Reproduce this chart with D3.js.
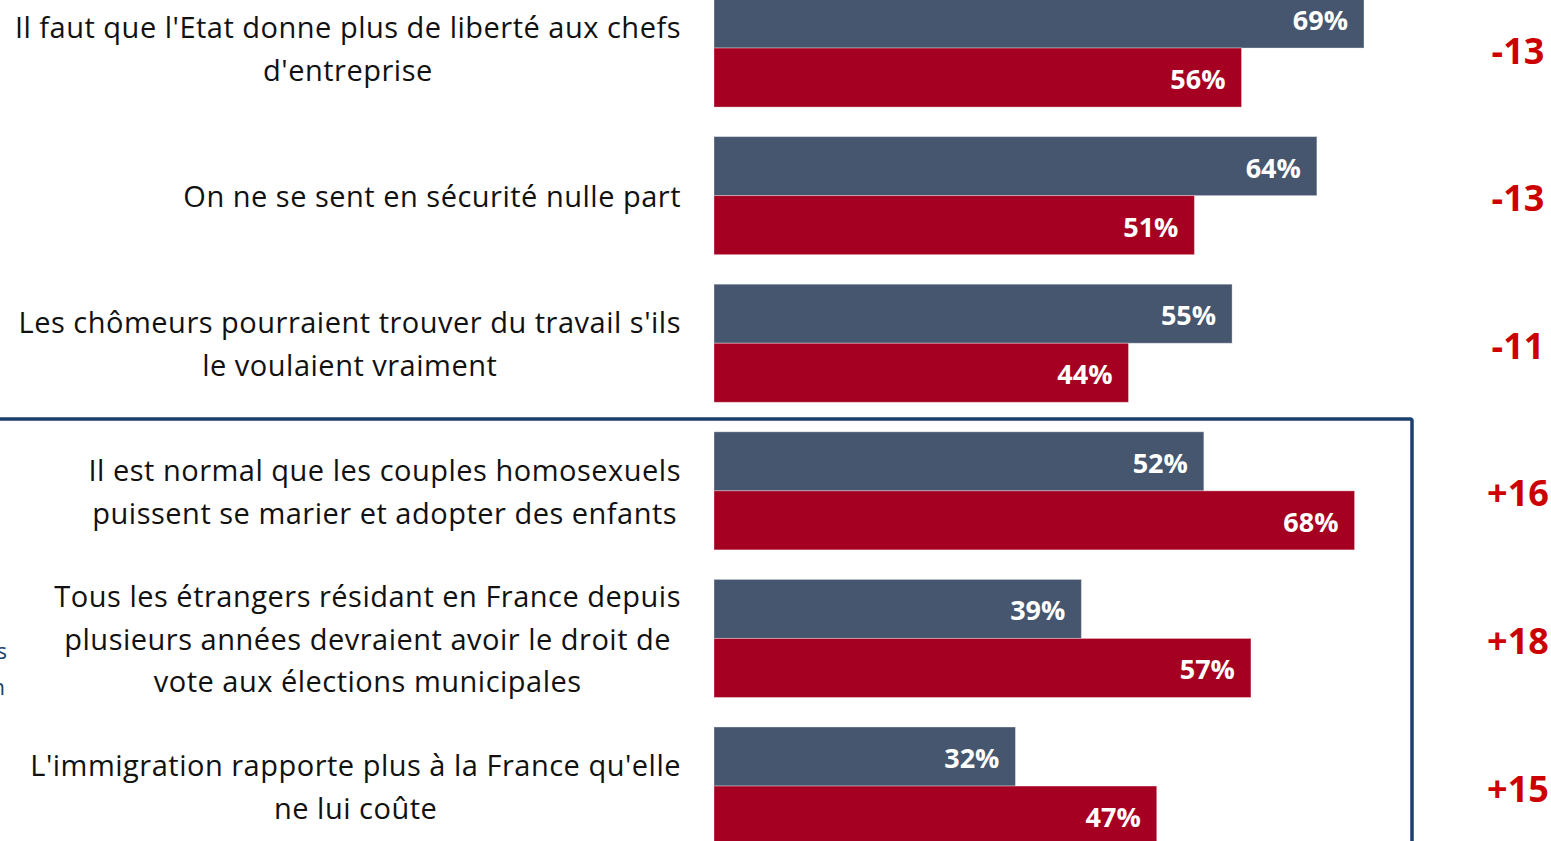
<!DOCTYPE html>
<html><head><meta charset="utf-8">
<script src="https://cdn.jsdelivr.net/npm/d3@7"></script>
<style>html,body{margin:0;padding:0;background:#fff;overflow:hidden}</style>
</head><body>
<script>
const categories = [
  ["Il faut que l'Etat donne plus de liberté aux chefs", "d'entreprise"],
  ["On ne se sent en sécurité nulle part"],
  ["Les chômeurs pourraient trouver du travail s'ils", "le voulaient vraiment"],
  ["Il est normal que les couples homosexuels", "puissent se marier et adopter des enfants"],
  ["Tous les étrangers résidant en France depuis", "plusieurs années devraient avoir le droit de", "vote aux élections municipales"],
  ["L'immigration rapporte plus à la France qu'elle", "ne lui coûte"]
];
const series1 = [69, 64, 55, 52, 39, 32];
const series2 = [56, 51, 44, 68, 57, 47];
const diffs = ["-13", "-13", "-11", "+16", "+18", "+15"];
const sideLabels = ["s", "n"];

const W = 1551, H = 841;
const svg = d3.select("body").append("svg").attr("width", W).attr("height", H)
  .style("font-family", "'Open Sans', Lato, sans-serif");

const idx = d3.range(categories.length);
const step = 147.6;
const y = d3.scaleBand().domain(idx).range([-11 - 0.1*step, -11 - 0.1*step + 6*step]).paddingInner(0.2).paddingOuter(0.1);
const ySub = d3.scaleBand().domain([0,1]).range([0, y.bandwidth()]);
const x = d3.scaleLinear().domain([0, 100]).range([714, 714 + 942]);
const colors = ["#46566E", "#A50021"];

// box
svg.append("rect").attr("x", -20).attr("y", 419).attr("width", 1412 + 20).attr("height", 500)
  .attr("fill", "none").attr("stroke", "#1C3F6E").attr("stroke-width", 3.5).attr("rx", 2);

svg.append("text").attr("x", 7).attr("y", 659).attr("text-anchor", "end").attr("fill", "#1C3F6E")
  .attr("font-size", 22).text(sideLabels[0]);
svg.append("text").attr("x", 5).attr("y", 695).attr("text-anchor", "end").attr("fill", "#1C3F6E")
  .attr("font-size", 22).text(sideLabels[1]);

const g = svg.selectAll("g.grp").data(idx).join("g").attr("class", "grp")
  .attr("transform", i => `translate(0,${y(i)})`);

[series1, series2].forEach((s, k) => {
  g.append("rect")
    .attr("x", x(0)).attr("y", ySub(k))
    .attr("width", i => x(s[i]) - x(0)).attr("height", ySub.bandwidth())
    .attr("fill", colors[k]).attr("stroke", "rgba(255,255,255,0.35)").attr("stroke-width", 1);
  g.append("text")
    .attr("x", i => x(s[i]) - 16).attr("y", ySub(k) + ySub.bandwidth()/2 + 1)
    .attr("text-anchor", "end").attr("dominant-baseline", "central")
    .attr("fill", "#fff").attr("font-weight", "bold").attr("font-size", 27)
    .text(i => s[i] + "%");
});

g.append("text")
  .attr("x", 1518).attr("y", y.bandwidth()/2 + 2)
  .attr("text-anchor", "middle").attr("dominant-baseline", "central")
  .attr("fill", "#CC0000").attr("font-weight", "bold").attr("font-size", 36)
  .text(i => diffs[i]);

// category labels: centered lines, block right-aligned at 681
g.each(function(i) {
  const lines = categories[i];
  const grp = d3.select(this).append("g");
  const lh = 42.5;
  const c = y.bandwidth()/2;
  const texts = grp.selectAll("text").data(lines).join("text")
    .attr("text-anchor", "middle").attr("dominant-baseline", "central")
    .attr("font-size", 29).attr("letter-spacing", 0.5).attr("fill", "#111")
    .attr("y", (d, j) => c + (j - (lines.length - 1)/2) * lh)
    .text(d => d);
  let maxW = 0;
  texts.each(function(){ maxW = Math.max(maxW, this.getComputedTextLength()); });
  texts.attr("x", 681 - maxW/2);
});
</script>
</body></html>
